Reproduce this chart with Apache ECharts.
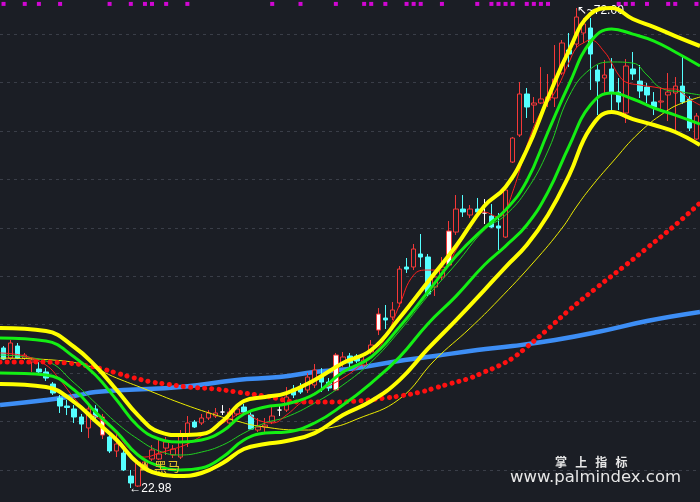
<!DOCTYPE html>
<html><head><meta charset="utf-8">
<script src="https://cdn.jsdelivr.net/npm/echarts@6/dist/echarts.min.js"></script>
<style>html,body{margin:0;padding:0;background:#1b1e25;}#c{width:700px;height:502px;}</style>
</head><body><div id="c"></div>
<script>
// ---- candle data (index 0..98) ----
const opens = [37.28,36.25,37.48,36.25,35.85,35.13,34.83,33.60,32.17,31.35,
31.05,30.23,29.11,31.05,30.23,28.19,26.76,26.55,24.20,23.18,
25.12,25.94,25.94,27.06,26.35,26.14,28.39,29.72,29.62,30.13,
30.33,30.74,29.62,30.54,31.25,30.43,28.90,29.21,29.72,30.94,
30.94,33.09,33.29,32.99,33.50,34.31,33.80,32.99,35.74,36.46,
36.46,35.54,36.87,39.11,40.34,40.44,41.87,45.55,45.55,46.88,
46.57,43.51,44.53,45.75,49.12,51.47,50.86,51.47,51.06,50.76,
49.74,48.61,56.27,59.03,63.22,62.09,62.30,62.60,62.81,65.36,
67.71,68.32,69.45,69.96,65.67,64.85,65.77,63.42,61.28,65.77,
64.54,63.93,62.40,62.40,63.12,63.32,64.03,62.71,58.62];
const closes = [36.15,37.79,36.25,36.56,36.05,34.83,34.21,32.68,31.35,31.20,
30.23,29.51,31.05,30.23,28.39,26.76,27.47,24.82,23.49,25.63,
25.63,26.86,26.45,27.68,26.96,28.39,29.62,29.21,30.13,30.64,
30.64,30.74,30.74,31.05,30.74,29.00,29.21,29.41,30.33,30.94,
32.27,32.48,32.78,34.31,35.03,33.80,33.19,36.56,36.36,35.74,
35.95,36.05,37.58,40.75,40.14,41.16,45.34,45.34,47.39,46.57,
42.79,44.53,45.55,49.23,51.47,51.17,51.47,51.17,51.06,49.63,
49.53,53.41,58.72,63.22,61.89,62.30,62.71,62.91,64.75,68.43,
67.30,71.08,70.37,67.30,64.54,65.16,63.42,62.40,66.08,65.26,
63.52,63.12,61.89,62.50,63.42,64.03,62.40,59.74,60.97];
const lows = [36.05,36.05,36.15,36.05,34.83,34.72,33.91,32.48,30.64,30.43,
29.62,28.70,28.08,29.92,27.98,26.55,26.14,24.71,22.98,23.08,
24.82,25.74,25.84,26.35,26.04,25.94,27.17,29.11,29.41,29.92,
30.13,30.43,29.41,30.33,30.54,28.90,28.70,28.70,29.51,30.33,
30.74,32.17,32.58,32.68,33.19,32.78,32.88,32.88,35.34,35.34,
35.74,35.34,36.66,38.60,39.22,40.14,41.46,44.94,45.24,45.55,
42.59,42.59,44.22,45.75,48.82,50.66,50.55,50.76,49.94,49.53,
47.28,48.51,56.17,58.83,60.77,60.26,62.20,61.89,61.89,65.16,
65.97,67.92,68.43,63.63,61.07,63.12,61.58,61.58,60.26,64.65,
62.81,62.30,61.07,61.38,60.46,59.54,62.20,59.44,58.52];
const highs = [37.48,38.09,37.79,36.77,36.25,35.85,35.23,33.80,32.48,31.97,
31.45,30.54,31.35,31.45,30.54,28.49,28.49,27.17,24.82,25.84,
25.84,27.37,27.98,28.19,27.37,28.90,30.33,29.92,30.54,30.94,
31.15,31.45,31.15,31.56,31.56,30.94,30.13,30.13,31.45,31.45,
33.29,33.50,33.70,34.72,35.64,35.23,34.21,36.77,36.87,36.77,
36.66,36.36,38.09,41.36,41.67,41.97,45.65,46.47,47.90,48.92,
46.88,44.94,46.57,50.25,52.90,52.90,51.88,52.60,52.49,51.98,
51.06,53.51,58.83,64.44,63.83,62.91,65.97,65.26,68.22,68.73,
69.45,72.00,70.98,70.98,66.18,66.69,66.89,64.85,66.79,67.51,
66.18,64.34,63.42,63.93,65.36,64.95,67.00,63.01,61.28];
const whiteCandles = [14,47,53,63];
const signalIdx = [0,3,5,8,15,18,20,21,23,26,38,42,47,51,52,54,57,58,59,62,67,69,70,71,72,74,75,76,77,87,88,89,91,94,95,98];
const highMark = [81, 72.00];
const lowMark = [18, 22.98];
const horseMark = [20, 25.22];

// ---- indicator lines: [candle index, price] ----
const upperYellow = [[-0.5,39.32],[6,39.01],[10,37.38],[13,35.44],[16,32.99],[19,30.43],[22,28.70],[25,28.39],[28,28.49],[31,29.82],[34,31.86],[37,32.27],[40,32.68],[44,34.01],[48,35.74],[52,37.07],[56,40.34],[60,44.02],[64,47.69],[68,51.78],[71,53.72],[74,57.50],[77,62.81],[80,67.71],[83,71.39],[86,72.00],[89,70.88],[92,70.06],[95,69.14],[98.5,68.12]];
const upperGreen = [[-0.5,38.30],[6,37.99],[10,36.36],[13,34.52],[16,31.97],[19,29.31],[22,27.98],[25,27.68],[28,27.88],[31,28.80],[34,30.54],[37,31.25],[40,31.56],[44,32.58],[48,34.83],[52,36.36],[56,39.42],[60,43.00],[64,46.67],[68,49.53],[71,51.37],[74,54.33],[77,59.34],[80,64.24],[83,68.53],[86,69.86],[89,69.34],[92,68.63],[95,67.51],[98.5,66.08]];
const lowerGreen = [[-0.5,34.72],[6,34.52],[10,32.99],[13,30.74],[16,28.70],[19,26.35],[22,25.22],[25,24.82],[28,25.02],[31,26.14],[34,27.88],[37,28.59],[40,28.70],[44,29.62],[48,31.45],[52,33.70],[56,36.35],[60,39.74],[64,42.58],[68,45.75],[71,47.69],[74,49.84],[77,53.21],[80,57.91],[83,62.09],[86,63.32],[89,62.71],[92,61.79],[95,61.07],[98.5,60.15]];
const lowerYellow = [[-0.5,33.60],[6,33.29],[10,31.76],[13,29.82],[16,27.88],[19,25.53],[22,24.41],[25,24.20],[28,24.51],[31,25.53],[34,26.96],[37,27.47],[40,27.78],[44,28.59],[48,30.43],[52,31.86],[56,34.00],[60,37.18],[64,40.13],[68,43.20],[71,45.55],[74,47.79],[77,50.86],[80,54.94],[83,59.74],[86,61.38],[89,60.66],[92,60.05],[95,59.34],[98.5,58.01]];
const thinGreen = [[-0.5,36.56],[6,35.95],[10,33.70],[13,31.66],[16,29.62],[19,27.98],[22,26.76],[25,26.35],[28,26.65],[31,27.37],[34,28.59],[37,29.62],[40,30.23],[44,31.66],[48,33.50],[52,35.85],[56,39.01],[60,42.59],[64,45.86],[68,49.33],[71,50.86],[74,53.41],[77,57.40],[80,63.01],[83,65.77],[86,66.49],[89,66.38],[91,65.16],[93,63.83],[96,63.42],[98.5,63.12]];
const thinRed = [[-0.5,36.77],[3,36.46],[6,35.54],[8,34.01],[10,32.17],[12,30.74],[14,29.82],[16,28.49],[18,26.86],[20,26.14],[22,26.55],[24,26.96],[26,27.47],[28,28.29],[30,29.11],[32,30.02],[34,30.64],[36,29.92],[38,29.62],[40,30.43],[42,31.66],[44,32.68],[46,33.40],[48,34.21],[50,35.23],[52,36.46],[54,38.30],[56,41.67],[58,44.73],[60,45.24],[62,45.24],[64,47.28],[66,49.84],[68,51.17],[70,50.66],[71,51.37],[72,53.21],[73,55.46],[74,57.91],[76,61.38],[78,63.42],[80,66.49],[81,67.92],[82,68.43],[83,68.73],[85,67.51],[86,66.38],[87,65.16],[88,64.44],[90,64.14],[92,63.93],[94,63.73],[95,63.73],[96,63.32],[97,62.71],[98.5,62.09]];
const thinYellow = [[-0.5,36.25],[7,36.05],[12,35.44],[16,34.21],[20,33.09],[25,31.66],[30,30.43],[33,29.82],[36,29.31],[42,28.90],[46,29.11],[50,30.02],[56,32.07],[61,36.05],[66,39.32],[70,42.18],[75,46.06],[79,49.53],[81,51.68],[83,53.62],[86,56.17],[90,59.34],[94,61.58],[96,62.30],[98.5,62.91]];
const blueLine = [[-0.5,31.45],[6,31.97],[10,32.37],[13,32.78],[17,32.99],[25,33.29],[33,34.01],[39,34.31],[44,34.83],[50,35.23],[55,35.85],[61,36.46],[67,37.07],[72,37.48],[78,38.09],[84,38.91],[91,40.03],[98.5,40.95]];
const redDots = [[-0.5,35.85],[4,35.85],[9,35.74],[12,35.44],[14,35.13],[16,34.72],[18,34.31],[21,33.80],[23,33.60],[26,33.29],[30,33.09],[33,32.78],[37,32.37],[42,31.76],[47,31.76],[50,31.86],[54,32.17],[56,32.37],[59,32.78],[61,33.19],[63,33.60],[66,34.21],[68,34.83],[70,35.44],[72,36.25],[74,37.38],[77,39.22],[80,41.16],[84,43.51],[88,45.75],[91,47.49],[95,49.84],[98.5,52.09]];

// ---- build ----
const N = opens.length;
const categories = opens.map((_, i) => String(i));
const RED = '#f53838', CYAN = '#55ffff', BG = '#1b1e25';
const candleData = opens.map((o, i) => {
  const v = [o, closes[i], lows[i], highs[i]];
  if (whiteCandles.includes(i)) {
    return {value: v, itemStyle: {color: '#ffffff', color0: '#ffffff', borderColor: RED, borderColor0: RED}};
  }
  return v;
});
const SIGNAL_LEVEL = 72.42;

function line(data, color, width, z, extra) {
  return Object.assign({
    type: 'line', xAxisIndex: 1, yAxisIndex: 0, data: data,
    symbol: 'none', showSymbol: false, smooth: 0.45,
    silent: true, z: z, animation: false,
    lineStyle: {color: color, width: width}
  }, extra || {});
}

const chart = echarts.init(document.getElementById('c'), null, {renderer: 'canvas'});
chart.setOption({
  backgroundColor: BG,
  animation: false,
  grid: [
    {left: 0, right: 0, top: 0, bottom: 0},
    {left: 0, right: 0, top: 34, bottom: 32}
  ],
  xAxis: [
    {type: 'category', gridIndex: 0, data: categories, show: false, boundaryGap: true},
    {type: 'value', gridIndex: 0, min: -0.5, max: N - 0.5, show: false},
    {type: 'value', gridIndex: 1, min: 0, max: 1, show: false}
  ],
  yAxis: [
    {type: 'value', gridIndex: 0, min: 21.55, max: 72.82, show: false},
    {type: 'value', gridIndex: 1, min: 0, max: 9, interval: 1,
     axisLine: {show: false}, axisTick: {show: false}, axisLabel: {show: false},
     splitLine: {show: true, lineStyle: {color: '#3a3e48', width: 1, type: [3, 4]}}}
  ],
  graphic: [
    {type: 'text', left: 555, top: 456, z: 100,
     style: {text: '掌   上   指   标', fill: '#e6e6e6', font: 'bold 12px "Noto Sans CJK SC"'}},
    {type: 'text', left: 510, top: 469, z: 100,
     style: {text: 'www.palmindex.com', fill: '#e6e6e6', font: '16.5px "DejaVu Sans"'}}
  ],
  series: [
    line(blueLine, '#3d8ef5', 4.5, 1),
    {
      type: 'candlestick', xAxisIndex: 0, yAxisIndex: 0, z: 2,
      barWidth: 5, data: candleData, silent: true,
      itemStyle: {color: BG, color0: CYAN, borderColor: RED, borderColor0: CYAN,
                  borderColorDoji: '#ffffff', borderWidth: 1},
      markPoint: {
        silent: true, animation: false,
        symbol: 'circle', symbolSize: 1,
        itemStyle: {color: 'rgba(0,0,0,0)'},
        label: {show: true, color: '#ffffff', fontFamily: 'Liberation Sans', fontSize: 12},
        data: [
          {coord: highMark, label: {formatter: '↖~' + highMark[1].toFixed(2), position: 'right', distance: 0, offset: [0, 3]}},
          {coord: lowMark, label: {formatter: '←' + lowMark[1].toFixed(2), position: 'right', distance: 0, offset: [-2, 1]}},
          {coord: horseMark, symbol: 'triangle', symbolSize: [10, 9], itemStyle: {color: '#e6c32c'},
           label: {formatter: '黑马', position: 'right', distance: 4, color: '#e6c32c', fontSize: 13, fontFamily: 'Noto Sans CJK SC'}}
        ]
      }
    },
    line(thinYellow, '#ecec00', 1, 3),
    line(thinGreen, '#20d020', 1, 3),
    line(thinRed, '#ff1e1e', 1, 3),
    line(redDots, '#ff1010', 5, 3, {smooth: 0.4, lineStyle: {color: '#ff1010', width: 5, type: [0.1, 7.05], cap: 'round'}}),
    line(upperGreen, '#14ee14', 3, 4),
    line(lowerGreen, '#14ee14', 3, 4),
    line(upperYellow, '#ffff00', 4, 5),
    line(lowerYellow, '#ffff00', 4, 5),
    {
      type: 'scatter', xAxisIndex: 0, yAxisIndex: 0, z: 6, silent: true,
      symbol: 'rect', symbolSize: 4, itemStyle: {color: '#ff00ff'},
      data: signalIdx.map(i => [i, SIGNAL_LEVEL])
    }
  ]
});
</script>
</body></html>
